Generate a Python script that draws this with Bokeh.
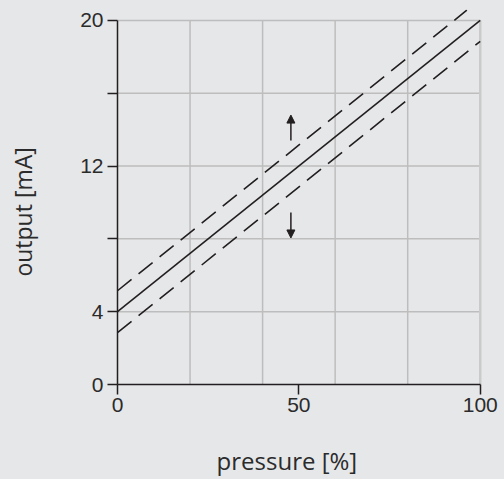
from bokeh.plotting import figure
from bokeh.models import Range1d, FixedTicker, Arrow, NormalHead, ColumnDataSource
from bokeh.embed import file_html
from bokeh.resources import INLINE

# data
pressure = [0, 100]
output = [4, 20]
upper_x = [0, 96.3]
upper_y = [5.15, 20.56]
lower_x = [0, 100]
lower_y = [2.85, 18.85]
x_ticks = [0, 50, 100]
y_ticks = [0, 4, 8, 12, 16, 20]
y_labels = {0: "0", 4: "4", 8: "", 12: "12", 16: "", 20: "20"}
vgrid = [20, 40, 60, 80]
hgrid = [4, 8, 12, 16, 20]
arrow_x = [47.8, 47.8]
arrow_tail = [13.4, 9.45]
arrow_tip = [14.8, 8.05]
x_title = "pressure [%]"
y_title = "output [mA]"

NBSP = "\u00a0"
BG = "#e6e7e8"
INK = "#231f20"
GRID = "#bdbdbd"
TXT = "#2b2b2b"

p = figure(width=504, height=479, output_backend="svg", toolbar_location=None,
           x_range=Range1d(0, 102), y_range=Range1d(0, 20.6),
           min_border_left=117, min_border_right=17, min_border_top=9, min_border_bottom=94)
p.background_fill_color = BG
p.border_fill_color = BG
p.outline_line_color = None
p.xgrid.visible = False
p.ygrid.visible = False

# grid
p.segment(x0=vgrid, y0=[0]*len(vgrid), x1=vgrid, y1=[20]*len(vgrid), line_color=GRID, line_width=1.5)
p.segment(x0=[0]*len(hgrid), y0=hgrid, x1=[100]*len(hgrid), y1=hgrid, line_color=GRID, line_width=1.5)
p.segment(x0=[100], y0=[0], x1=[100], y1=[20], line_color="#cacaca", line_width=2.5)

# lines
p.line(pressure, output, line_color=INK, line_width=1.6)
p.line(upper_x, upper_y, line_color=INK, line_width=1.6, line_dash="18 9")
p.line(lower_x, lower_y, line_color=INK, line_width=1.6, line_dash="18 9")

# arrows
src = ColumnDataSource(dict(x=arrow_x, y0=arrow_tail, y1=arrow_tip))
p.add_layout(Arrow(end=NormalHead(size=8, fill_color=INK, line_color=INK, line_width=1),
                   x_start="x", y_start="y0", x_end="x", y_end="y1", source=src,
                   line_color=INK, line_width=1.5))

# axes
for ax in (p.xaxis[0], p.yaxis[0]):
    ax.axis_line_color = INK
    ax.axis_line_width = 1.5
    ax.major_tick_line_color = INK
    ax.major_tick_line_width = 1.5
    ax.major_tick_out = 10
    ax.major_tick_in = 0
    ax.minor_tick_line_color = None
    ax.major_label_text_font = "Liberation Sans"
    ax.major_label_text_font_size = "21px"
    ax.major_label_text_color = TXT
    ax.axis_label_text_font = "Open Sans"
    ax.axis_label_text_font_style = "normal"
    ax.axis_label_text_color = TXT

p.xaxis.axis_label_text_font_size = "24px"
p.yaxis.axis_label_text_font_size = "23px"
p.xaxis.bounds = (0, 100)
p.yaxis.bounds = (0, 20)
p.xaxis.ticker = FixedTicker(ticks=x_ticks)
p.yaxis.ticker = FixedTicker(ticks=y_ticks)
p.yaxis.major_label_overrides = y_labels
# trailing no-break spaces nudge the centred titles as in the reference
p.xaxis.axis_label = x_title + NBSP * 5
p.yaxis.axis_label = y_title + NBSP * 5
p.xaxis.major_label_standoff = 3
p.yaxis.major_label_standoff = 4
p.xaxis.axis_label_standoff = 29
p.yaxis.axis_label_standoff = 38

html = file_html(p, INLINE)
html = html.replace("</head>", "<style>html,body{background-color:#e6e7e8;}</style></head>", 1)
open("out.html", "w").write(html)
